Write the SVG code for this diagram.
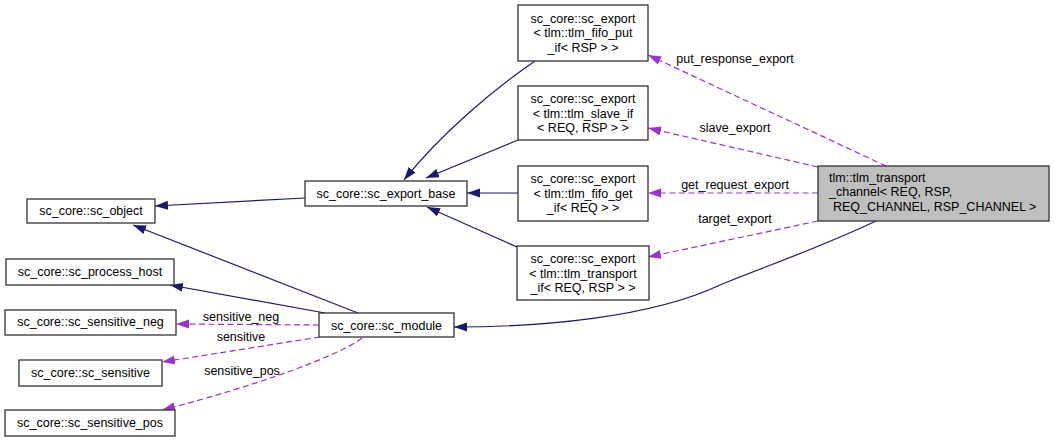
<svg xmlns="http://www.w3.org/2000/svg" width="1055" height="443" viewBox="0 0 1055 443">
<style>
  .box{fill:#ffffff;stroke:#333333;stroke-width:1.3}
  .hl{fill:#bfbfbf;stroke:#333333;stroke-width:1.3}
  text{font-family:"Liberation Sans",Arial,sans-serif;font-size:12.5px;fill:#000}
  .c{text-anchor:middle}
  .s{fill:none;stroke:#191970;stroke-width:1.2}
  .d{fill:none;stroke:#9a32cd;stroke-width:1.2;stroke-dasharray:6,3.5}
</style>
<defs>
  <marker id="an" markerUnits="userSpaceOnUse" markerWidth="14" markerHeight="10" refX="13" refY="4.5" orient="auto"><path d="M0,0 L13,4.5 L0,9 z" fill="#191970"/></marker>
  <marker id="ap" markerUnits="userSpaceOnUse" markerWidth="14" markerHeight="10" refX="13" refY="4.5" orient="auto"><path d="M0,0 L13,4.5 L0,9 z" fill="#9a32cd"/></marker>
</defs>
<g id="connectors">
  <path class="s" marker-end="url(#an)" d="M305,198 L155,206"/>
  <path class="s" marker-end="url(#an)" d="M358,313 L133,225"/>
  <path class="s" marker-end="url(#an)" d="M325,313 L170,285"/>
  <path class="s" marker-end="url(#an)" d="M535,61 C490,92 440,135 404,180"/>
  <path class="s" marker-end="url(#an)" d="M518,140 L426,178"/>
  <path class="s" marker-end="url(#an)" d="M518,193 L467,193"/>
  <path class="s" marker-end="url(#an)" d="M517,247 L427,207"/>
  <path class="s" marker-end="url(#an)" d="M876,221 C810,252 760,268 720,285 C650,318 540,327 454,327"/>
  <path class="d" marker-end="url(#ap)" d="M886,166 L648,55"/>
  <path class="d" marker-end="url(#ap)" d="M818,167 L648,128"/>
  <path class="d" marker-end="url(#ap)" d="M818,193 L648,193"/>
  <path class="d" marker-end="url(#ap)" d="M818,221 L648,257"/>
  <path class="d" marker-end="url(#ap)" d="M319,325 L176,324"/>
  <path class="d" marker-end="url(#ap)" d="M320,337 L162,362"/>
  <path class="d" marker-end="url(#ap)" d="M362,338 C340,355 260,385 162,410"/>
  <text class="c" x="735" y="63">put_response_export</text>
  <text class="c" x="735" y="132">slave_export</text>
  <text class="c" x="735" y="189">get_request_export</text>
  <text class="c" x="735" y="223">target_export</text>
  <text class="c" x="241" y="321">sensitive_neg</text>
  <text class="c" x="241" y="341">sensitive</text>
  <text class="c" x="242" y="375">sensitive_pos</text>
</g>
<g id="channel">
  <rect class="hl" x="818" y="166" width="231" height="55"/>
  <text x="829" y="181.5">tlm::tlm_transport</text>
  <text x="829" y="196">_channel&lt; REQ, RSP,</text>
  <text x="833" y="210.5">REQ_CHANNEL, RSP_CHANNEL &gt;</text>
</g>
<g id="export_put">
  <rect class="box" x="518" y="5" width="130" height="56"/>
  <text class="c" x="583" y="22.5">sc_core::sc_export</text>
  <text class="c" x="583" y="37">&lt; tlm::tlm_fifo_put</text>
  <text class="c" x="583" y="51.5">_if&lt; RSP &gt; &gt;</text>
</g>
<g id="export_slave">
  <rect class="box" x="518" y="86" width="130" height="54"/>
  <text class="c" x="583" y="103">sc_core::sc_export</text>
  <text class="c" x="583" y="117.5">&lt; tlm::tlm_slave_if</text>
  <text class="c" x="583" y="132">&lt; REQ, RSP &gt; &gt;</text>
</g>
<g id="export_get">
  <rect class="box" x="518" y="166" width="130" height="55"/>
  <text class="c" x="583" y="183">sc_core::sc_export</text>
  <text class="c" x="583" y="197.5">&lt; tlm::tlm_fifo_get</text>
  <text class="c" x="583" y="212">_if&lt; REQ &gt; &gt;</text>
</g>
<g id="export_transport">
  <rect class="box" x="517" y="246" width="132" height="54"/>
  <text class="c" x="583" y="263">sc_core::sc_export</text>
  <text class="c" x="583" y="277.5">&lt; tlm::tlm_transport</text>
  <text class="c" x="583" y="292">_if&lt; REQ, RSP &gt; &gt;</text>
</g>
<g id="export_base">
  <rect class="box" x="305" y="181" width="162" height="25"/>
  <text class="c" x="386" y="197.5">sc_core::sc_export_base</text>
</g>
<g id="module">
  <rect class="box" x="319" y="313" width="135" height="24"/>
  <text class="c" x="386.5" y="329.5">sc_core::sc_module</text>
</g>
<g id="object">
  <rect class="box" x="27" y="199" width="128" height="24"/>
  <text class="c" x="91" y="215">sc_core::sc_object</text>
</g>
<g id="process_host">
  <rect class="box" x="6" y="259" width="168" height="26"/>
  <text class="c" x="90" y="276">sc_core::sc_process_host</text>
</g>
<g id="sensitive_neg">
  <rect class="box" x="5" y="310" width="171" height="25"/>
  <text class="c" x="90.5" y="326">sc_core::sc_sensitive_neg</text>
</g>
<g id="sensitive">
  <rect class="box" x="19" y="360" width="143" height="26"/>
  <text class="c" x="90.5" y="377">sc_core::sc_sensitive</text>
</g>
<g id="sensitive_pos">
  <rect class="box" x="5" y="410" width="170" height="26"/>
  <text class="c" x="90" y="427">sc_core::sc_sensitive_pos</text>
</g>
</svg>
